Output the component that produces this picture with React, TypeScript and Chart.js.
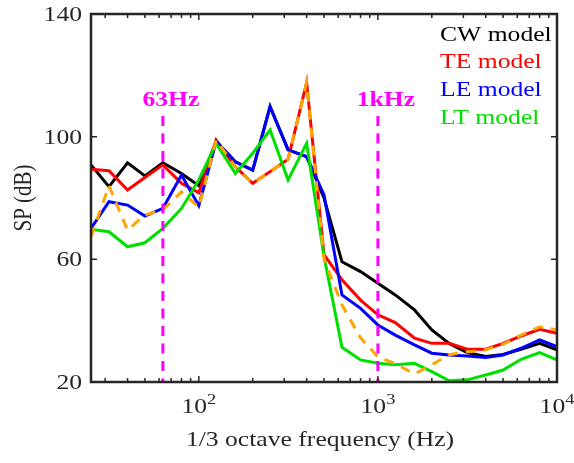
import React, { useEffect, useRef } from "react";
import { Chart, registerables } from "chart.js";

Chart.register(...registerables);

// 1/3 octave band centre frequencies (Hz)
const frequencies = [25, 31.5, 40, 50, 63, 80, 100, 125, 160, 200, 250, 315, 400, 500, 630, 800, 1000, 1250, 1600, 2000, 2500, 3150, 4000, 5000, 6300, 8000, 10000];

// SP (dB) per model
const cwModel = [90.8, 83.7, 91.5, 87.2, 91.5, 88.0, 84.0, 98.4, 91.8, 89.1, 109.8, 95.7, 93.5, 80.0, 59.2, 56.0, 52.2, 48.4, 43.5, 37.0, 32.6, 29.6, 28.3, 29.0, 30.7, 32.6, 30.5];
const teModel = [89.4, 88.9, 82.6, 86.7, 90.8, 84.8, 81.7, 98.9, 90.2, 84.8, 88.6, 92.6, 117.6, 61.5, 53.3, 46.7, 41.9, 39.4, 34.3, 32.6, 32.6, 30.7, 30.7, 32.6, 35.0, 37.2, 35.9];
const leModel = [70.1, 78.8, 77.7, 74.1, 76.6, 87.5, 77.5, 98.4, 91.8, 89.1, 109.8, 95.7, 93.5, 81.0, 48.4, 44.0, 38.6, 35.3, 32.1, 29.4, 28.8, 28.5, 28.0, 28.8, 31.0, 33.7, 31.5];
const ltModel = [69.8, 69.0, 64.1, 65.4, 70.1, 76.6, 85.9, 97.8, 88.0, 94.6, 102.2, 85.9, 97.8, 61.0, 31.3, 27.2, 26.1, 25.6, 26.1, 23.4, 20.4, 20.7, 22.3, 23.9, 27.4, 29.6, 27.2];
const dashedSeries = [67.4, 84.0, 69.5, 74.5, 76.1, 82.0, 77.0, 98.9, 90.2, 84.8, 88.6, 92.6, 117.6, 60.0, 45.1, 34.4, 28.2, 26.0, 22.6, 25.6, 28.9, 29.8, 30.5, 32.3, 35.3, 38.0, 37.0];

// axes
const xMin = 25;
const xMax = 10000;
const yMin = 20;
const yMax = 140;
const yTicks = [20, 60, 100, 140];
const xMajorTicks = [100, 1000, 10000];
const xTickExponents = ["2", "3", "4"];
const xTitle = "1/3 octave frequency (Hz)";
const yTitle = "SP (dB)";

// markers and legend
const markerFreqs = [63, 1000];
const markerLabels = ["63Hz", "1kHz"];
const legendLabels = ["CW model", "TE model", "LE model", "LT model"];
const legendColors = ["#000000", "#ff0000", "#0000ff", "#00e000"];

const FONT = '"Liberation Serif", "Times New Roman", serif';
const SX = 1.22;
const AXIS_COLOR = "#262626";

function drawText(
  ctx: CanvasRenderingContext2D,
  text: string,
  x: number,
  y: number,
  align: "left" | "right" | "center",
  size: number,
  color: string,
  bold = false
) {
  ctx.save();
  ctx.font = `${bold ? "bold " : ""}${size}px ${FONT}`;
  ctx.fillStyle = color;
  ctx.textBaseline = "alphabetic";
  ctx.textAlign = "left";
  const w = ctx.measureText(text).width * SX;
  const left = align === "left" ? x : align === "right" ? x - w : x - w / 2;
  ctx.translate(left, y);
  ctx.scale(SX, 1);
  ctx.fillText(text, 0, 0);
  ctx.restore();
}

function minorTicks(): number[] {
  const out: number[] = [];
  for (const d of [10, 100, 1000]) {
    for (let m = 2; m <= 9; m++) {
      const v = m * d;
      if (v >= xMin && v <= xMax) out.push(v);
    }
  }
  return out;
}

const decorPlugin = {
  id: "decor",
  afterDatasetsDraw(chart: any) {
    const ctx: CanvasRenderingContext2D = chart.ctx;
    const { left, right, top, bottom } = chart.chartArea;
    const xs = chart.scales.x;
    const ys = chart.scales.y;

    // magenta markers
    ctx.save();
    ctx.strokeStyle = "#ff00ff";
    ctx.lineWidth = 3;
    ctx.setLineDash([10, 7.5]);
    markerFreqs.forEach((f) => {
      const px = xs.getPixelForValue(f);
      ctx.beginPath();
      ctx.moveTo(px, 116);
      ctx.lineTo(px, bottom);
      ctx.stroke();
    });
    ctx.restore();
    markerFreqs.forEach((f, i) => {
      const px = xs.getPixelForValue(f);
      drawText(ctx, markerLabels[i], px + 8, 106, "center", 21, "#ff00ff", true);
    });

    // frame
    ctx.save();
    ctx.strokeStyle = AXIS_COLOR;
    ctx.lineWidth = 2.5;
    ctx.strokeRect(left, top, right - left, bottom - top);

    // ticks (inward)
    ctx.lineWidth = 1.5;
    const vtick = (px: number, len: number) => {
      ctx.beginPath();
      ctx.moveTo(px, bottom);
      ctx.lineTo(px, bottom - len);
      ctx.moveTo(px, top);
      ctx.lineTo(px, top + len);
      ctx.stroke();
    };
    xMajorTicks.forEach((v) => vtick(xs.getPixelForValue(v), 6));
    minorTicks().forEach((v) => vtick(xs.getPixelForValue(v), 4));
    yTicks.forEach((v) => {
      const py = ys.getPixelForValue(v);
      ctx.beginPath();
      ctx.moveTo(left, py);
      ctx.lineTo(left + 6, py);
      ctx.moveTo(right, py);
      ctx.lineTo(right - 6, py);
      ctx.stroke();
    });
    ctx.restore();

    // y tick labels
    yTicks.forEach((v) => {
      const py = ys.getPixelForValue(v);
      drawText(ctx, String(v), 82, py + 7, "right", 21, AXIS_COLOR);
    });

    // x tick labels 10^n
    xMajorTicks.forEach((v, i) => {
      const px = xs.getPixelForValue(v);
      ctx.save();
      ctx.font = `21px ${FONT}`;
      const wBase = ctx.measureText("10").width * SX;
      ctx.font = `15px ${FONT}`;
      const wSup = ctx.measureText(xTickExponents[i]).width * SX;
      ctx.restore();
      const start = px - (wBase + wSup) / 2;
      drawText(ctx, "10", start, 413, "left", 21, AXIS_COLOR);
      drawText(ctx, xTickExponents[i], start + wBase, 404, "left", 15, AXIS_COLOR);
    });

    // axis titles
    drawText(ctx, xTitle, (left + right) / 2 - 4, 446, "center", 21, AXIS_COLOR);
    ctx.save();
    ctx.font = `21px ${FONT}`;
    ctx.fillStyle = AXIS_COLOR;
    ctx.translate(24, (top + bottom) / 2);
    ctx.scale(SX, 1);
    ctx.rotate(-Math.PI / 2);
    ctx.textAlign = "center";
    ctx.textBaseline = "middle";
    ctx.fillText(yTitle, 0, 0);
    ctx.restore();

    // legend
    const baselines = [40.5, 68, 96, 124];
    legendLabels.forEach((lab, i) => {
      drawText(ctx, lab, 440, baselines[i], "left", 21, legendColors[i]);
    });
  },
};

export default function App() {
  const ref = useRef<HTMLCanvasElement | null>(null);

  useEffect(() => {
    const canvas = ref.current;
    if (!canvas) return;
    const mk = (data: number[], color: string, order: number, dash: number[] = []) => ({
      data: frequencies.map((f, i) => ({ x: f, y: data[i] })),
      borderColor: color,
      backgroundColor: color,
      borderWidth: 3,
      borderDash: dash,
      pointRadius: 0,
      tension: 0,
      fill: false,
      order,
    });
    const chart = new Chart(canvas, {
      type: "line",
      data: {
        datasets: [
          { label: legendLabels[0], ...mk(cwModel, legendColors[0], 4) },
          { label: legendLabels[1], ...mk(teModel, legendColors[1], 3) },
          { label: legendLabels[2], ...mk(leModel, legendColors[2], 2) },
          { label: legendLabels[3], ...mk(ltModel, legendColors[3], 1) },
          { label: "dashed", ...mk(dashedSeries, "#ffa500", 0, [10, 8]) },
        ],
      },
      options: {
        responsive: false,
        animation: false,
        devicePixelRatio: 1,
        layout: { padding: { left: 91, right: 17, top: 14, bottom: 81 } },
        plugins: { legend: { display: false }, tooltip: { enabled: false } },
        scales: {
          x: { type: "logarithmic", min: xMin, max: xMax, display: false },
          y: { type: "linear", min: yMin, max: yMax, display: false },
        },
      },
      plugins: [decorPlugin],
    });
    return () => chart.destroy();
  }, []);

  return (
    <div style={{ position: "absolute", left: 0, top: 0, width: 574, height: 463, background: "#fff" }}>
      <canvas ref={ref} width={574} height={463} style={{ width: 574, height: 463 }} />
    </div>
  );
}
